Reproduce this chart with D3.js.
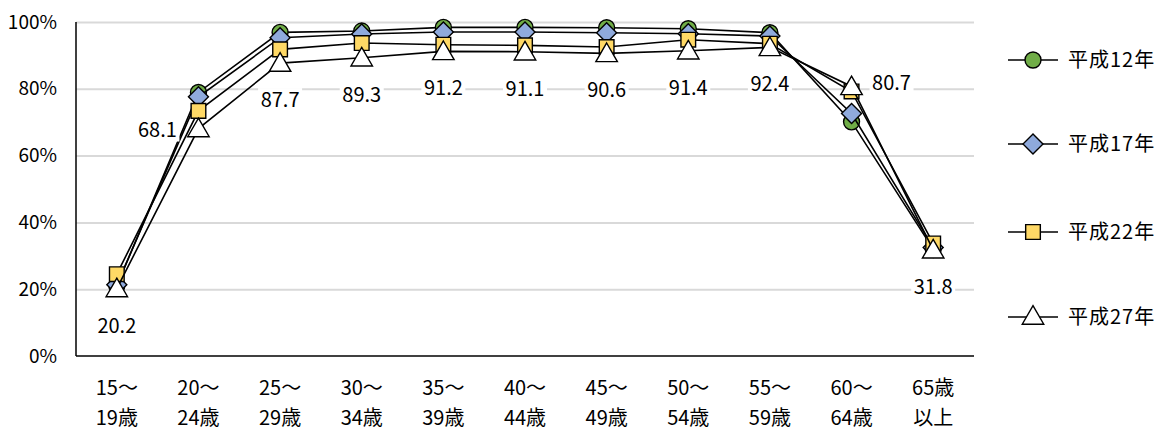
<!DOCTYPE html>
<html>
<head>
<meta charset="utf-8">
<script src="https://cdn.jsdelivr.net/npm/d3@7"></script>
<style>
  body { margin: 0; background: #fff; }
  text { font-family: "Noto Sans CJK JP", "Noto Sans", sans-serif; fill: #000; }
</style>
</head>
<body>
<svg id="chart" width="1168" height="432"></svg>
<script>
'use strict'

const ageTop = ['15～', '20～', '25～', '30～', '35～', '40～', '45～', '50～', '55～', '60～', '65歳']
const ageBottom = ['19歳', '24歳', '29歳', '34歳', '39歳', '44歳', '49歳', '54歳', '59歳', '64歳', '以上']
const seriesNames = ['平成12年', '平成17年', '平成22年', '平成27年']

const h12 = [21.0, 78.9, 96.9, 97.3, 98.4, 98.4, 98.3, 98.0, 96.8, 70.1, 32.0]
const h17 = [21.3, 77.6, 95.3, 96.4, 97.0, 97.0, 96.8, 96.5, 95.8, 72.6, 32.5]
const h22 = [24.5, 73.4, 91.8, 93.7, 93.2, 93.0, 92.5, 94.7, 93.5, 79.2, 33.7]
const h27 = [20.2, 68.1, 87.7, 89.3, 91.2, 91.1, 90.6, 91.4, 92.4, 80.7, 31.8]

const yTicks = [0, 20, 40, 60, 80, 100]

const svg = d3.select('#chart')
const plotLeft = 76, plotRight = 974, plotTop = 22, plotBottom = 356

const x = d3.scaleBand().domain(d3.range(ageTop.length)).range([plotLeft, plotRight])
const y = d3.scaleLinear().domain([0, 100]).range([plotBottom, plotTop])
const cx = (i) => x(i) + x.bandwidth() / 2

// gridlines
svg.append('g')
  .attr('transform', `translate(${plotLeft},0)`)
  .call(d3.axisLeft(y).tickValues(yTicks.slice(1)).tickSize(-(plotRight - plotLeft)).tickFormat(''))
  .call((g) => g.select('.domain').remove())
  .call((g) => g.selectAll('line').attr('stroke', '#d9d9d9').attr('stroke-width', 2))

// y labels
svg.append('g').selectAll('text')
  .data(yTicks)
  .join('text')
  .attr('x', 57)
  .attr('y', (d) => y(d))
  .attr('dy', '0.35em')
  .attr('text-anchor', 'end')
  .attr('font-size', 19)
  .text((d) => d + '%')

// axes lines
svg.append('line').attr('x1', plotLeft).attr('x2', plotLeft).attr('y1', plotTop).attr('y2', plotBottom)
  .attr('stroke', '#000').attr('stroke-width', 1.5)
svg.append('line').attr('x1', plotLeft).attr('x2', plotRight).attr('y1', plotBottom).attr('y2', plotBottom)
  .attr('stroke', '#000').attr('stroke-width', 1.5)

// x labels
const xl = svg.append('g').selectAll('g').data(ageTop).join('g')
xl.append('text').attr('x', (d, i) => cx(i)).attr('y', 388).attr('dy', '0.35em')
  .attr('text-anchor', 'middle').attr('font-size', 20).text((d) => d)
xl.append('text').attr('x', (d, i) => cx(i)).attr('y', 418).attr('dy', '0.35em')
  .attr('text-anchor', 'middle').attr('font-size', 20).text((d, i) => ageBottom[i])

// marker shapes (diamond = square turned 45°)
const shapes = [
  { sym: d3.symbolCircle, size: 200, fill: '#70ad47', rot: 0 },
  { sym: d3.symbolSquare, size: 200, fill: '#8faadc', rot: 45 },
  { sym: d3.symbolSquare, size: 215, fill: '#ffd966', rot: 0 },
  { sym: d3.symbolTriangle, size: 200, fill: '#ffffff', rot: 0 }
]

const allSeries = [h12, h17, h22, h27]
const line = d3.line().x((d, i) => cx(i)).y((d) => y(d))

allSeries.forEach((vals, s) => {
  const g = svg.append('g')
  g.append('path').datum(vals).attr('d', line)
    .attr('fill', 'none').attr('stroke', '#000').attr('stroke-width', 1.6)
  g.selectAll('path.m').data(vals).join('path').attr('class', 'm')
    .attr('transform', (d, i) => `translate(${cx(i)},${y(d) + (s === 3 ? 2 : 0)}) rotate(${shapes[s].rot})`)
    .attr('d', d3.symbol().type(shapes[s].sym).size(shapes[s].size))
    .attr('fill', shapes[s].fill).attr('stroke', '#000').attr('stroke-width', 1.4)
})

// data labels for 平成27年
const labels = svg.append('g').selectAll('g').data(h27).join('g')
  .attr('transform', (d, i) => {
    if (i === 1) return `translate(${cx(i) - 41},${y(d) + 1})`
    if (i === 9) return `translate(${cx(i) + 40},${y(d) - 3})`
    return `translate(${cx(i)},${y(d) + 37})`
  })
labels.append('rect').attr('x', -22).attr('y', -12).attr('width', 44).attr('height', 24).attr('fill', '#fff')
labels.append('text').attr('text-anchor', 'middle').attr('dy', '0.35em')
  .attr('font-size', 20).text((d) => d.toFixed(1))

// legend
const legendY = [60, 144, 232, 317]
const lg = svg.append('g').selectAll('g').data(seriesNames).join('g')
  .attr('transform', (d, i) => `translate(1008,${legendY[i]})`)
lg.append('line').attr('x1', 0).attr('x2', 50).attr('stroke', '#000').attr('stroke-width', 1.6)
lg.append('path').attr('transform', (d, i) => `translate(25,${i === 3 ? 1 : 0}) rotate(${shapes[i].rot})`)
  .attr('d', (d, i) => d3.symbol().type(shapes[i].sym).size(shapes[i].size)())
  .attr('fill', (d, i) => shapes[i].fill).attr('stroke', '#000').attr('stroke-width', 1.4)
lg.append('text').attr('x', 60).attr('dy', '0.35em').attr('font-size', 20)
  .attr('letter-spacing', 1).text((d) => d)
</script>
</body>
</html>
